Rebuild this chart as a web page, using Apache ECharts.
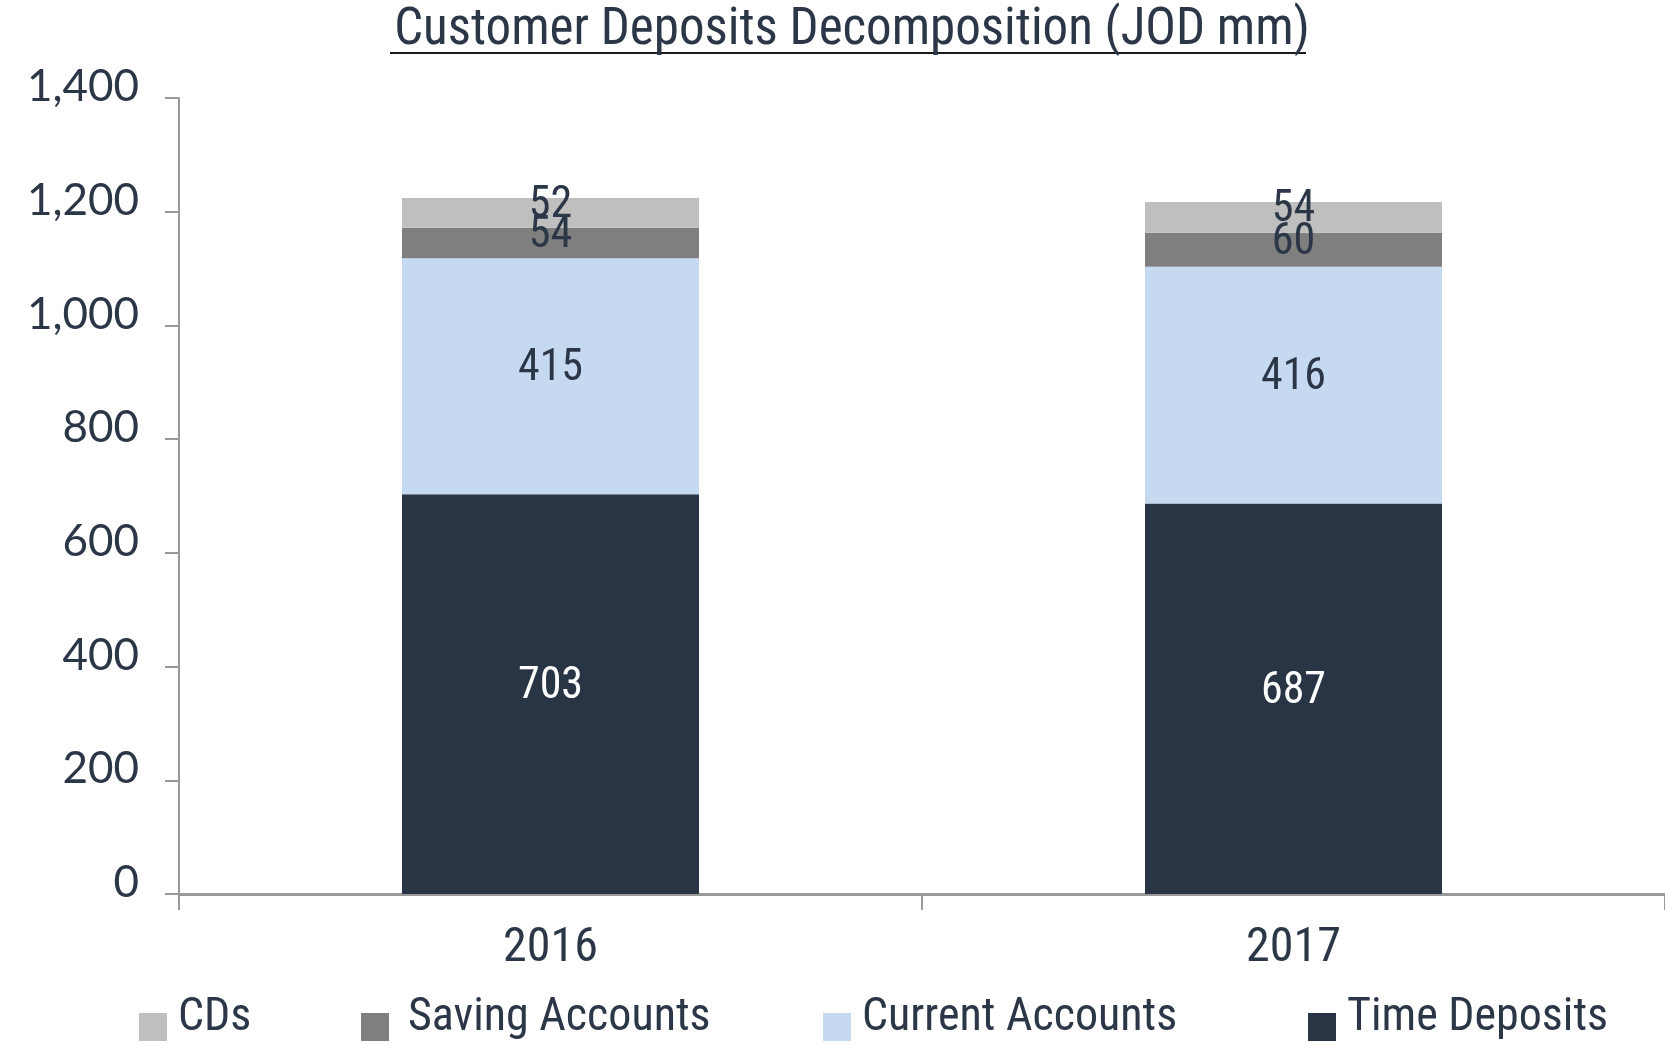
<!DOCTYPE html>
<html lang="en">
  <head>
    <meta charset="UTF-8" />
    <title>Customer Deposits Decomposition</title>
    <script src="https://cdn.jsdelivr.net/npm/echarts@6.0.0/dist/echarts.min.js"></script>
    <style>
      html, body { margin: 0; padding: 0; background: #fff; }
    </style>
  </head>
  <body>
    <div id="main" style="width: 1665px; height: 1045px"></div>
    <script type="text/javascript">
      // Data (JOD mm)
      const years = ['2016', '2017'];
      const timeDeposits = [703, 687];
      const currentAccounts = [415, 416];
      const savingAccounts = [54, 60];
      const cds = [52, 54];
      const yTicks = [0, 200, 400, 600, 800, 1000, 1200, 1400];
      const legendNames = ['CDs', 'Saving Accounts', 'Current Accounts', 'Time Deposits'];

      const textColor = '#2b3647';
      const narrow = '"Roboto Condensed", "Noto Sans", sans-serif';

      let myChart = echarts.init(document.getElementById('main'));

      // shared label style for the stacked segments
      function segLabel(color) {
        return {
          show: true,
          position: 'inside',
          offset: [0, -7],
          color: color,
          fontFamily: narrow,
          fontSize: 44
        };
      }

      function makeSeries(name, data, color, labelColor) {
        return {
          name: name,
          type: 'bar',
          stack: 'total',
          data: data,
          barWidth: 297,
          itemStyle: { color: color },
          label: segLabel(labelColor)
        };
      }

      // one legend per entry so the uneven spacing of the original can be kept
      const legendLeft = [139, 361, 823, 1308];
      const legendTextGap = [6, 14, 6, 6];
      const legends = legendNames.map((name, i) => ({
        data: [name],
        left: legendLeft[i],
        top: 995,
        padding: 0,
        icon: 'rect',
        itemWidth: 28,
        itemHeight: 28,
        itemGap: 0,
        formatter: '{t|{name}}',
        textStyle: {
          color: textColor,
          fontFamily: narrow,
          fontSize: 46,
          rich: {
            t: {
              color: textColor,
              fontFamily: narrow,
              fontSize: 46,
              padding: [0, 0, 18, legendTextGap[i]]
            }
          }
        }
      }));

      let options = {
        animation: false,
        title: {
          text: 'Customer Deposits Decomposition (JOD mm)',
          left: 847,
          top: 1,
          textAlign: 'center',
          textStyle: {
            color: textColor,
            fontFamily: narrow,
            fontSize: 51,
            fontWeight: 'normal'
          }
        },
        graphic: [
          {
            type: 'line',
            shape: { x1: 390, y1: 53, x2: 1306, y2: 53 },
            style: { stroke: '#1a1a1a', lineWidth: 2 }
          }
        ],
        grid: { left: 179, right: -3, top: 98, bottom: 151, containLabel: false },
        legend: legends,
        xAxis: {
          type: 'category',
          data: years,
          axisLine: { lineStyle: { color: '#999999', width: 3 } },
          axisTick: { show: true, length: 16, lineStyle: { color: '#999999', width: 2 } },
          axisLabel: {
            color: textColor,
            fontFamily: narrow,
            fontSize: 48,
            margin: 31
          }
        },
        yAxis: {
          type: 'value',
          min: 0,
          max: yTicks[yTicks.length - 1],
          interval: yTicks[1] - yTicks[0],
          axisLine: { show: true, lineStyle: { color: '#999999', width: 2 } },
          axisTick: { show: true, length: 14, lineStyle: { color: '#999999', width: 2 } },
          splitLine: { show: false },
          axisLabel: {
            margin: 40,
            formatter: (v) => '{v|' + v.toLocaleString('en-US') + '}',
            rich: {
              v: {
                color: textColor,
                fontFamily: 'Lato, "Noto Sans", sans-serif',
                fontSize: 44,
                padding: [0, 0, 22, 0]
              }
            }
          }
        },
        series: [
          makeSeries('Time Deposits', timeDeposits, '#293545', '#ffffff'),
          makeSeries('Current Accounts', currentAccounts, '#c5d9f0', textColor),
          makeSeries('Saving Accounts', savingAccounts, '#7f7f7f', textColor),
          makeSeries('CDs', cds, '#bfbfbf', textColor)
        ]
      };

      myChart.setOption(options);
    </script>
  </body>
</html>
